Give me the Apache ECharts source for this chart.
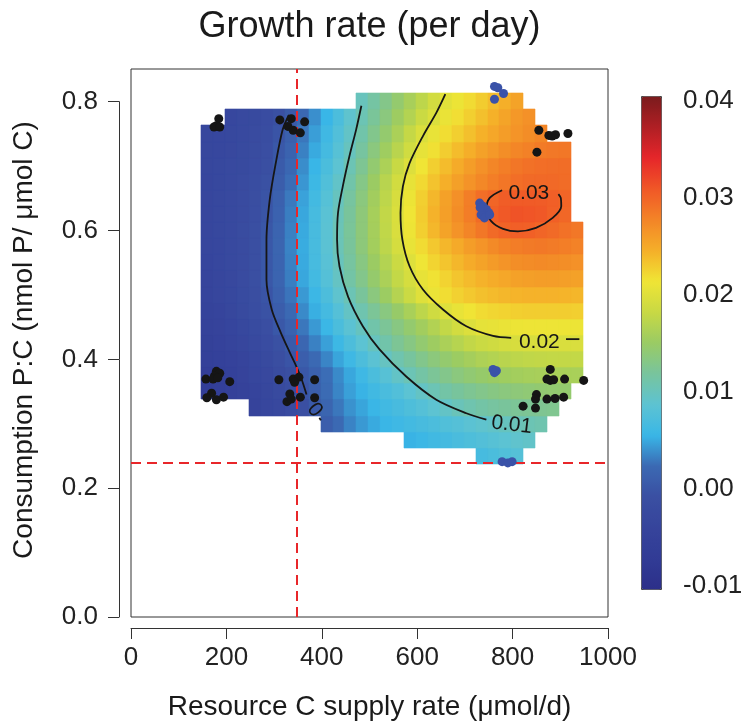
<!DOCTYPE html>
<html>
<head>
<meta charset="utf-8">
<script src="https://cdn.jsdelivr.net/npm/echarts@6/dist/echarts.min.js"></script>
<style>html,body{margin:0;padding:0;background:#fff}#c{width:743px;height:726px}</style>
</head>
<body>
<div id="c"></div>
<script>
const _ = null;
// Heat-map cell centres (x: resource C supply rate, y: consumption P:C)
const xCells = [160,185,210,235,260,285,310,335,360,385,410,435,460,485,510,535,560,585,610,635,660,685,710,735,760,785,810,835,860,885,910,935];
const yCells = [0.25,0.275,0.30,0.325,0.35,0.375,0.40,0.425,0.45,0.475,0.50,0.525,0.55,0.575,0.60,0.625,0.65,0.675,0.70,0.725,0.75,0.775,0.80];
// Growth rate (per day), one row per yCells entry (bottom to top), columns follow xCells
const growth = [
 [_,_,_,_,_,_,_,_,_,_,_,_,_,_,_,_,_,_,_,_,_,_,_,0.0067,0.0071,0.0076,0.0080,_,_,_,_,_],
 [_,_,_,_,_,_,_,_,_,_,_,_,_,_,_,_,_,0.0054,0.0058,0.0062,0.0066,0.0070,0.0074,0.0078,0.0082,0.0086,0.0090,0.0093,_,_,_,_],
 [_,_,_,_,_,_,_,_,_,_,0.0010,0.0023,0.0034,0.0043,0.0050,0.0056,0.0060,0.0064,0.0068,0.0072,0.0076,0.0080,0.0085,0.0089,0.0093,0.0098,0.0102,0.0105,0.0108,_,_,_],
 [_,_,_,_,-0.0043,-0.0036,-0.0028,-0.0019,-0.0008,0.0005,0.0018,0.0029,0.0040,0.0048,0.0056,0.0062,0.0068,0.0074,0.0080,0.0087,0.0094,0.0102,0.0108,0.0113,0.0117,0.0120,0.0122,0.0123,0.0125,0.0126,_,_],
 [-0.0064,-0.0059,-0.0054,-0.0048,-0.0041,-0.0033,-0.0024,-0.0014,-0.0002,0.0011,0.0024,0.0035,0.0046,0.0054,0.0062,0.0070,0.0077,0.0086,0.0095,0.0104,0.0113,0.0119,0.0124,0.0129,0.0133,0.0136,0.0139,0.0141,0.0143,0.0144,0.0145,_],
 [-0.0060,-0.0055,-0.0050,-0.0043,-0.0036,-0.0028,-0.0018,-0.0008,0.0003,0.0014,0.0025,0.0037,0.0049,0.0060,0.0071,0.0082,0.0094,0.0104,0.0114,0.0122,0.0129,0.0136,0.0142,0.0147,0.0151,0.0154,0.0157,0.0159,0.0160,0.0161,0.0161,0.0161],
 [-0.0056,-0.0051,-0.0046,-0.0039,-0.0031,-0.0022,-0.0012,-0.0002,0.0010,0.0023,0.0035,0.0048,0.0060,0.0073,0.0085,0.0097,0.0108,0.0118,0.0128,0.0137,0.0145,0.0152,0.0158,0.0164,0.0168,0.0172,0.0175,0.0177,0.0178,0.0179,0.0179,0.0179],
 [-0.0052,-0.0047,-0.0041,-0.0034,-0.0025,-0.0016,-0.0006,0.0006,0.0020,0.0033,0.0046,0.0059,0.0073,0.0086,0.0099,0.0111,0.0123,0.0133,0.0144,0.0153,0.0162,0.0170,0.0178,0.0184,0.0188,0.0192,0.0194,0.0195,0.0196,0.0196,0.0196,0.0196],
 [-0.0048,-0.0043,-0.0037,-0.0030,-0.0021,-0.0011,0.0002,0.0015,0.0029,0.0043,0.0057,0.0071,0.0085,0.0098,0.0111,0.0122,0.0134,0.0145,0.0156,0.0167,0.0179,0.0190,0.0198,0.0205,0.0207,0.0209,0.0211,0.0212,0.0212,0.0212,0.0212,0.0211],
 [-0.0044,-0.0039,-0.0033,-0.0024,-0.0015,-0.0005,0.0009,0.0023,0.0037,0.0052,0.0066,0.0080,0.0095,0.0108,0.0122,0.0135,0.0148,0.0161,0.0175,0.0188,0.0200,0.0208,0.0215,0.0220,0.0223,0.0225,0.0227,0.0228,0.0228,0.0228,0.0228,0.0227],
 [-0.0041,-0.0036,-0.0030,-0.0021,-0.0012,-0.0002,0.0013,0.0028,0.0043,0.0058,0.0073,0.0089,0.0104,0.0120,0.0136,0.0152,0.0169,0.0185,0.0201,0.0210,0.0219,0.0226,0.0231,0.0236,0.0239,0.0241,0.0243,0.0244,0.0244,0.0244,0.0243,0.0242],
 [-0.0039,-0.0034,-0.0028,-0.0019,-0.0010,0.0002,0.0017,0.0032,0.0049,0.0064,0.0080,0.0096,0.0113,0.0129,0.0146,0.0162,0.0179,0.0193,0.0207,0.0216,0.0225,0.0233,0.0239,0.0244,0.0248,0.0252,0.0256,0.0258,0.0259,0.0259,0.0258,0.0256],
 [-0.0037,-0.0032,-0.0027,-0.0019,-0.0010,0.0002,0.0017,0.0033,0.0050,0.0067,0.0083,0.0100,0.0117,0.0134,0.0151,0.0168,0.0185,0.0200,0.0213,0.0224,0.0233,0.0241,0.0249,0.0255,0.0261,0.0266,0.0270,0.0272,0.0273,0.0272,0.0270,0.0268],
 [-0.0036,-0.0031,-0.0026,-0.0019,-0.0010,0.0002,0.0018,0.0034,0.0051,0.0068,0.0085,0.0103,0.0120,0.0138,0.0157,0.0175,0.0193,0.0208,0.0220,0.0231,0.0241,0.0250,0.0259,0.0266,0.0273,0.0279,0.0283,0.0285,0.0286,0.0284,0.0282,0.0279],
 [-0.0035,-0.0030,-0.0025,-0.0018,-0.0010,0.0001,0.0017,0.0033,0.0050,0.0068,0.0085,0.0103,0.0121,0.0139,0.0158,0.0177,0.0196,0.0212,0.0227,0.0241,0.0255,0.0267,0.0277,0.0287,0.0296,0.0301,0.0304,0.0303,0.0300,0.0296,0.0291,0.0287],
 [-0.0034,-0.0029,-0.0025,-0.0019,-0.0011,-0.0001,0.0015,0.0032,0.0049,0.0067,0.0084,0.0102,0.0120,0.0139,0.0159,0.0178,0.0197,0.0213,0.0229,0.0244,0.0258,0.0271,0.0283,0.0295,0.0303,0.0308,0.0312,0.0311,0.0309,0.0303,0.0298,_],
 [-0.0034,-0.0029,-0.0025,-0.0019,-0.0012,-0.0003,0.0013,0.0030,0.0047,0.0064,0.0081,0.0099,0.0117,0.0136,0.0156,0.0175,0.0194,0.0211,0.0227,0.0241,0.0256,0.0269,0.0282,0.0293,0.0300,0.0305,0.0307,0.0307,0.0306,0.0304,0.0300,_],
 [-0.0034,-0.0030,-0.0026,-0.0020,-0.0014,-0.0006,0.0009,0.0025,0.0042,0.0059,0.0076,0.0093,0.0111,0.0131,0.0151,0.0171,0.0190,0.0207,0.0221,0.0234,0.0246,0.0257,0.0267,0.0275,0.0282,0.0288,0.0293,0.0296,0.0297,0.0297,0.0295,_],
 [-0.0033,-0.0030,-0.0027,-0.0022,-0.0016,-0.0008,0.0006,0.0021,0.0038,0.0055,0.0071,0.0087,0.0105,0.0124,0.0144,0.0163,0.0182,0.0199,0.0214,0.0227,0.0238,0.0249,0.0259,0.0268,0.0276,0.0282,0.0288,0.0291,0.0293,0.0294,0.0294,_],
 [-0.0033,-0.0031,-0.0028,-0.0024,-0.0018,-0.0011,0.0002,0.0016,0.0033,0.0050,0.0066,0.0082,0.0099,0.0117,0.0136,0.0154,0.0172,0.0189,0.0206,0.0217,0.0228,0.0238,0.0247,0.0256,0.0263,0.0270,0.0276,0.0280,0.0284,0.0286,0.0287,_],
 [-0.0033,-0.0031,-0.0029,-0.0025,-0.0020,-0.0013,-0.0002,0.0012,0.0029,0.0045,0.0061,0.0077,0.0094,0.0111,0.0128,0.0145,0.0162,0.0180,0.0197,0.0208,0.0219,0.0227,0.0236,0.0245,0.0252,0.0259,0.0266,0.0271,0.0276,_,_,_],
 [_,_,-0.0031,-0.0027,-0.0023,-0.0016,-0.0007,0.0005,0.0022,0.0039,0.0055,0.0072,0.0089,0.0105,0.0121,0.0136,0.0153,0.0168,0.0184,0.0197,0.0209,0.0218,0.0227,0.0236,0.0245,0.0254,0.0263,0.0268,_,_,_,_],
 [_,_,_,_,_,_,_,_,_,_,_,_,_,0.0100,0.0115,0.0130,0.0145,0.0160,0.0175,0.0190,0.0203,0.0211,0.0220,0.0229,0.0238,0.0246,0.0255,_,_,_,_,_]
];
// Contour lines (growth = 0, 0.01, 0.02, 0.03)
const contour0 = [[331,0.779],[318,0.756],[303,0.702],[291,0.648],[284,0.585],[284,0.523],[295,0.477],[314,0.441],[333,0.410],[347,0.388],[358,0.368],[368,0.345]];
const contour0Tail = [[395,0.309],[398,0.305]];
const contour001 = [[483,0.793],[472,0.756],[458,0.715],[444,0.668],[434,0.627],[432,0.585],[437,0.544],[455,0.497],[486,0.451],[521,0.415],[577,0.373],[640,0.337],[703,0.316],[745,0.306]];
const contour002a = [[659,0.811],[640,0.782],[612,0.746],[584,0.704],[570,0.668],[565,0.627],[569,0.585],[584,0.544],[612,0.508],[654,0.477],[703,0.451],[759,0.436],[797,0.433]];
const contour002b = [[912,0.431],[940,0.431]];
const contour003 = [[778,0.662],[752,0.650],[745,0.632],[755,0.614],[780,0.602],[811,0.598],[849,0.6035],[884,0.619],[902,0.637],[901,0.650],[896,0.656]];
const contourLabelText = ['0','0.01','0.02','0.03'];
const contourLabelPos = [[385,0.321],[798,0.298],[856,0.426],[834,0.657]];
// Observations
const blackPoints = [
 [184,0.773],[179,0.762],[174,0.760],[186,0.760],
 [312,0.771],[336,0.773],[364,0.768],[329,0.761],[340,0.755],[355,0.751],
 [855,0.755],[876,0.747],[883,0.746],[890,0.748],[916,0.750],[851,0.721],
 [179,0.381],[186,0.378],[175,0.374],[157,0.369],[172,0.369],[182,0.371],[207,0.365],[169,0.347],[159,0.340],[179,0.337],[194,0.341],
 [310,0.368],[340,0.369],[352,0.372],[343,0.364],[385,0.368],[333,0.346],[327,0.334],[336,0.338],[355,0.341],[385,0.340],
 [879,0.384],[872,0.369],[879,0.367],[886,0.368],[909,0.369],[949,0.367],[850,0.345],[848,0.338],[872,0.338],[889,0.339],[907,0.341],[822,0.327],[848,0.324]
];
const bluePoints = [
 [762,0.823],[769,0.821],[781,0.812],[762,0.803],
 [731,0.642],[738,0.637],[745,0.632],[750,0.627],[734,0.624],[741,0.619],[752,0.624],[732,0.635],
 [759,0.384],[766,0.382],[762,0.379],
 [778,0.241],[790,0.239],[799,0.241]
];
const thresholdX = 347;
const thresholdY = 0.24;
const xTicks = {min:0, max:1000, step:200};
const yTicks = {min:0, max:0.8, step:0.2};
const legendTicks = {min:-0.01, max:0.04, step:0.01};
const legendRange = [-0.0104, 0.0405];

const FONT = '"Liberation Sans", Arial, Helvetica, sans-serif';
const cmap = ['#2C2F89','#313B95','#36449C','#3A4FA2','#3B69B3','#39B6E7','#5DC3D2','#78C49D','#9ACB64','#C8D944','#F0E535','#F5AF29','#F38427','#F05727','#E6262A','#B01F24','#7A1B1D'];

const heatData = [];
growth.forEach((row, j) => row.forEach((v, i) => { if (v !== null) heatData.push([xCells[i], yCells[j], v]); }));
const dx = xCells[1] - xCells[0];
const dy = yCells[1] - yCells[0];

const contourStyle = {color:'#161616', width:1.8};
function contourSeries(data) {
  return {type:'line', data, xAxisIndex:0, yAxisIndex:0, symbol:'none', smooth:0.3,
          lineStyle:contourStyle, silent:true, z:3, clip:true};
}
const labelAngles = [-52, -7, 0, 0];

const chart = echarts.init(document.getElementById('c'), null, {renderer:'canvas'});
chart.setOption({
  animation:false,
  textStyle:{fontFamily:FONT},
  grid:[
    {left:131, top:69, width:477, height:548, show:true, borderColor:'#333', borderWidth:1, backgroundColor:'transparent', outerBoundsMode:'none'},
    {left:641, top:101, width:20, height:484.7, outerBoundsMode:'none'},
    {left:119, top:101.7, width:10, height:515.3, outerBoundsMode:'none'}
  ],
  xAxis:[
    {gridIndex:0, type:'value', min:xTicks.min, max:xTicks.max, interval:xTicks.step, offset:11,
     axisLine:{show:true, onZero:false, lineStyle:{color:'#333', width:1}},
     axisTick:{show:true, length:11, lineStyle:{color:'#333'}},
     axisLabel:{fontSize:26, color:'#222', margin:17, fontFamily:FONT, formatter:v => String(v)},
     splitLine:{show:false}},
    {gridIndex:1, type:'value', show:false},
    {gridIndex:2, type:'value', show:false}
  ],
  yAxis:[
    {gridIndex:0, type:'value', min:0, max:0.85, show:false, splitLine:{show:false}},
    {gridIndex:1, type:'value', min:legendTicks.min, max:legendTicks.max, interval:legendTicks.step, position:'right',
     axisLine:{show:false}, axisTick:{show:true, length:12, lineStyle:{color:'#444'}},
     axisLabel:{fontSize:26, color:'#222', margin:22, fontFamily:FONT, formatter:v => (Math.round(v*100)/100).toFixed(2)},
     splitLine:{show:false}},
    {gridIndex:2, type:'value', min:yTicks.min, max:yTicks.max, interval:yTicks.step, position:'left',
     axisLine:{show:true, onZero:false, lineStyle:{color:'#333'}},
     axisTick:{show:true, length:11, lineStyle:{color:'#333'}},
     axisLabel:{fontSize:26, color:'#222', margin:21, fontFamily:FONT, formatter:v => v.toFixed(1)},
     splitLine:{show:false}}
  ],
  visualMap:{
    type:'continuous', seriesIndex:0, dimension:2, min:legendRange[0], max:legendRange[1],
    calculable:false, hoverLink:false, inRange:{color:cmap},
    orient:'vertical', left:641, top:96, itemWidth:20, itemHeight:493, padding:0,
    borderColor:'#444', borderWidth:1
  },
  graphic:[
    {type:'text', x:369.5, y:27, style:{text:'Growth rate (per day)', fontSize:36, fontFamily:FONT, fill:'#1a1a1a', align:'center', verticalAlign:'middle'}},
    {type:'text', x:369.5, y:707, style:{text:'Resource C supply rate (\u03BCmol/d)', fontSize:28, fontFamily:FONT, fill:'#1a1a1a', align:'center', verticalAlign:'middle'}},
    {type:'text', x:24, y:340, rotation:Math.PI/2, style:{text:'Consumption P:C (nmol P/ \u03BCmol C)', fontSize:28, fontFamily:FONT, fill:'#1a1a1a', align:'center', verticalAlign:'middle'}}
  ],
  series:[
    {type:'custom', xAxisIndex:0, yAxisIndex:0, data:heatData, silent:true, z:1, clip:true,
     renderItem:(params, api) => {
       const x = api.value(0), y = api.value(1);
       const p0 = api.coord([x - dx/2, y + dy/2]);
       const p1 = api.coord([x + dx/2, y - dy/2]);
       const x0 = Math.round(p0[0]), y0 = Math.round(p0[1]);
       const x1 = Math.round(p1[0]), y1 = Math.round(p1[1]);
       return {type:'rect', shape:{x:x0, y:y0, width:x1-x0, height:y1-y0},
               style:{fill:api.visual('color'), stroke:api.visual('color'), lineWidth:0.6}};
     }},
    contourSeries(contour0),
    contourSeries(contour0Tail),
    contourSeries(contour001),
    contourSeries(contour002a),
    contourSeries(contour002b),
    contourSeries(contour003),
    {type:'scatter', xAxisIndex:0, yAxisIndex:0, silent:true, z:4, symbolSize:1,
     itemStyle:{color:'rgba(0,0,0,0)', opacity:1},
     data:contourLabelPos.map((p, k) => ({name:contourLabelText[k], value:p, label:{rotate:labelAngles[k]}})),
     label:{show:true, position:'inside', formatter:'{b}', fontSize:21, color:'#161616', fontFamily:FONT}},
    {type:'scatter', xAxisIndex:0, yAxisIndex:0, data:blackPoints, symbol:'circle', symbolSize:9,
     itemStyle:{color:'#151515', opacity:1}, silent:true, z:5},
    {type:'scatter', xAxisIndex:0, yAxisIndex:0, data:bluePoints, symbol:'circle', symbolSize:9,
     itemStyle:{color:'#3A52A8', opacity:1}, silent:true, z:5},
    {type:'line', xAxisIndex:0, yAxisIndex:0, data:[], silent:true, z:6,
     markLine:{silent:true, symbol:['none','none'], label:{show:false},
       lineStyle:{color:'#E8262A', width:2, type:[10,6]},
       data:[{xAxis:thresholdX}, {yAxis:thresholdY}]}}
  ]
});
</script>
</body>
</html>
